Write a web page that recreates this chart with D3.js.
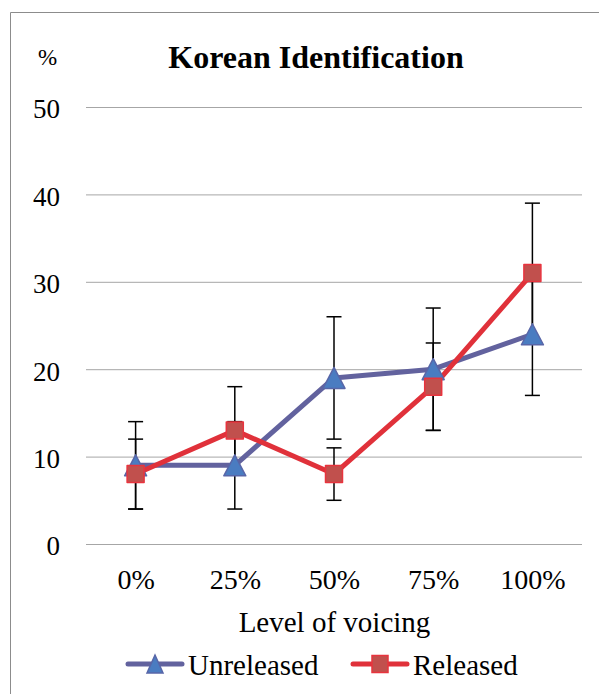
<!DOCTYPE html>
<html>
<head>
<meta charset="utf-8">
<script src="https://cdn.jsdelivr.net/npm/d3@7"></script>
<style>
  html, body { margin: 0; padding: 0; background: #fff; }
  svg { display: block; }
  svg text { font-family: "Liberation Serif", "Times New Roman", Times, "DejaVu Serif", serif; }
</style>
</head>
<body>
<svg id="chart" width="599" height="694"></svg>
<script>
// levels of voicing on the x axis
const levels = ['0%', '25%', '50%', '75%', '100%'];
// mean identification (%) and error bar half-widths
const unreleased = [9, 9, 19, 20, 24];
const unreleasedErr = [5, 5, 7, 7, 7];
const released = [8, 13, 8, 18, 31];
const releasedErr = [4, 5, 3, 5, 8];
const yTicks = [0, 10, 20, 30, 40, 50];

const SERIF = '"Liberation Serif", "Times New Roman", Times, "DejaVu Serif", serif';
const svg = d3.select('#chart');
const W = 599, H = 694;
const m = { left: 86, right: 17, top: 107, bottom: 150 };

// outer frame (only left + top are inside the crop)
svg.append('path')
  .attr('d', 'M10.5,' + H + ' V12.5 H' + W)
  .attr('fill', 'none').attr('stroke', '#8c8c8c').attr('stroke-width', 1);

const x = d3.scalePoint().domain(levels).range([m.left, W - m.right]).padding(0.5);
const y = d3.scaleLinear().domain([0, 50]).range([H - m.bottom, m.top]);

// gridlines + y labels
const yAxis = d3.axisLeft(y).tickValues(yTicks).tickSize(-(W - m.right - m.left)).tickPadding(26);
const ya = svg.append('g').attr('transform', 'translate(' + m.left + ',0)').call(yAxis)
  .attr('font-family', SERIF);
ya.select('.domain').remove();
ya.selectAll('.tick line').attr('stroke', '#a6a6a6').attr('stroke-width', 1);
ya.selectAll('.tick text').attr('fill', '#000').attr('font-size', 27)
  .attr('x', -26).attr('dy', '0.4em').attr('text-anchor', 'end');

// x labels
const xAxis = d3.axisBottom(x).tickSize(0).tickPadding(25);
const xa = svg.append('g').attr('transform', 'translate(0,' + y(0) + ')').call(xAxis)
  .attr('font-family', SERIF);
xa.select('.domain').remove();
xa.selectAll('.tick text').attr('fill', '#000').attr('font-size', 28);

svg.append('text').attr('x', 334.5).attr('y', 632).attr('text-anchor', 'middle')
  .attr('font-size', 29).text('Level of voicing');
svg.append('text').attr('x', 316).attr('y', 68).attr('text-anchor', 'middle')
  .attr('font-size', 32).attr('font-weight', 'bold').text('Korean Identification');
svg.append('text').attr('x', 47.5).attr('y', 65).attr('text-anchor', 'middle')
  .attr('font-size', 23).text('%');

const series = [
  { name: 'Unreleased', vals: unreleased, err: unreleasedErr, line: '#62629e', fill: '#4a7cc1', stroke: '#5866a8', shape: 'tri' },
  { name: 'Released', vals: released, err: releasedErr, line: '#e0313a', fill: '#c1504d', stroke: '#e8343e', shape: 'sq' }
];

// Excel-style markers, centred on their bounding box
function marker(shape, w, h) {
  const p = d3.path();
  if (shape === 'tri') {
    p.moveTo(0, -h / 2); p.lineTo(w / 2, h / 2); p.lineTo(-w / 2, h / 2); p.closePath();
  } else {
    p.rect(-w / 2, -h / 2, w, h);
  }
  return p.toString();
}

const line = d3.line().x((d, i) => x(levels[i])).y(d => y(d));

series.forEach(s => {
  svg.append('path').datum(s.vals).attr('d', line)
    .attr('fill', 'none').attr('stroke', s.line).attr('stroke-width', 5)
    .attr('stroke-linejoin', 'round');
});

// error bars
series.forEach(s => {
  const g = svg.append('g').attr('stroke', '#000').attr('stroke-width', 1.5);
  s.vals.forEach((v, i) => {
    const cx = x(levels[i]), lo = y(v - s.err[i]), hi = y(v + s.err[i]);
    g.append('line').attr('x1', cx).attr('x2', cx).attr('y1', lo).attr('y2', hi);
    g.append('line').attr('x1', cx - 7.5).attr('x2', cx + 7.5).attr('y1', lo).attr('y2', lo);
    g.append('line').attr('x1', cx - 7.5).attr('x2', cx + 7.5).attr('y1', hi).attr('y2', hi);
  });
});

series.forEach(s => {
  const d = s.shape === 'tri' ? marker('tri', 22, 21) : marker('sq', 17, 17);
  svg.append('g').selectAll('path').data(s.vals).join('path')
    .attr('transform', (v, i) => 'translate(' + x(levels[i]) + ',' + y(v) + ')')
    .attr('d', d)
    .attr('fill', s.fill).attr('stroke', s.stroke).attr('stroke-width', 1.5)
    .attr('stroke-linejoin', 'round');
});

// legend
const legend = [
  { s: series[0], x0: 128 },
  { s: series[1], x0: 353 }
];
legend.forEach(l => {
  const g = svg.append('g').attr('transform', 'translate(' + l.x0 + ',664)');
  g.append('line').attr('x1', 0).attr('x2', 54).attr('stroke', l.s.line).attr('stroke-width', 5)
    .attr('stroke-linecap', 'round');
  g.append('path').attr('transform', 'translate(27,0)')
    .attr('d', l.s.shape === 'tri' ? marker('tri', 16, 18) : marker('sq', 16, 17))
    .attr('fill', l.s.fill).attr('stroke', l.s.stroke).attr('stroke-width', 1.5);
  g.append('text').attr('x', 60).attr('y', 11).attr('font-size', 29).text(l.s.name);
});
</script>
</body>
</html>
